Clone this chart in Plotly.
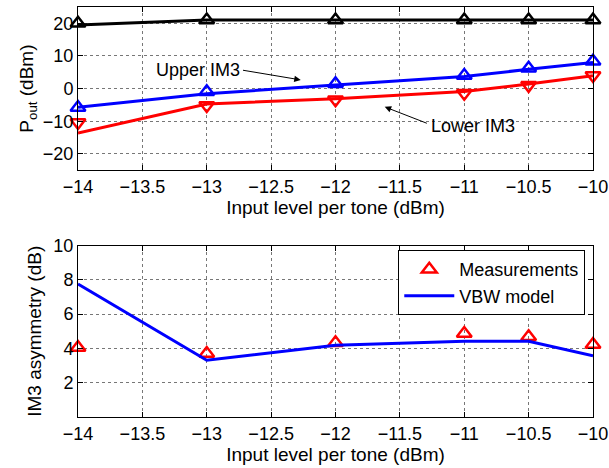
import plotly.graph_objects as go

# Data
x_in = [-14, -13, -12, -11, -10.5, -10]
# Top panel: output power (dBm)
fund_line = [19.5, 21, 21, 21, 21, 21]
fund_meas = [20.0, 21, 21, 21, 21, 21]
upper_line = [-5.7, -1.6, 1.1, 3.7, 5.9, 8.0]
upper_meas = [-5.8, -1.0, 1.5, 4.0, 6.2, 8.4]
lower_line = [-13.6, -4.7, -3.1, -0.9, 1.4, 3.9]
lower_meas = [-10.4, -5.2, -3.4, -1.4, 1.0, 4.0]
# Bottom panel: IM3 asymmetry (dB)
asym_meas = [4.05, 3.7, 4.33, 4.87, 4.68, 4.23]
asym_model = [7.76, 3.31, 4.19, 4.42, 4.42, 3.57]

x_ticks = [-14, -13.5, -13, -12.5, -12, -11.5, -11, -10.5, -10]
x_tick_text = ["\u221214", "\u221213.5", "\u221213", "\u221212.5", "\u221212",
               "\u221211.5", "\u221211", "\u221210.5", "\u221210"]
top_y_ticks = [-20, -10, 0, 10, 20]
top_y_text = ["\u221220", "\u221210", "0", "10", "20"]
bot_y_ticks = [2, 4, 6, 8, 10]

FONT = "Liberation Sans, Arial, Helvetica, sans-serif"
LW = 3

fig = go.Figure()

def add_pair(line_y, meas_y, color, symbol):
    fig.add_trace(go.Scatter(x=x_in, y=line_y, mode="lines",
                             line=dict(color=color, width=LW),
                             showlegend=False, xaxis="x", yaxis="y"))
    fig.add_trace(go.Scatter(x=x_in, y=meas_y, mode="markers",
                             marker=dict(symbol=symbol, size=13, color=color,
                                         line=dict(color=color, width=2.5)),
                             cliponaxis=False,
                             showlegend=False, xaxis="x", yaxis="y"))

add_pair(fund_line, fund_meas, "#000000", "triangle-up-open")
add_pair(upper_line, upper_meas, "#0000ff", "triangle-up-open")
add_pair(lower_line, lower_meas, "#ff0000", "triangle-down-open")

fig.add_trace(go.Scatter(x=x_in, y=asym_meas, mode="markers", name="Measurements",
                         marker=dict(symbol="triangle-up-open", size=13, color="#ff0000",
                                     line=dict(color="#ff0000", width=2.5)),
                         cliponaxis=False,
                         xaxis="x2", yaxis="y2"))
fig.add_trace(go.Scatter(x=x_in, y=asym_model, mode="lines", name="VBW model",
                         line=dict(color="#0000ff", width=LW),
                         xaxis="x2", yaxis="y2"))

axis_common = dict(
    showline=True, linecolor="black", linewidth=1, mirror="ticks",
    ticks="inside", ticklen=5, tickcolor="black",
    showgrid=True, gridcolor="#777777", griddash="dot", gridwidth=1,
    zeroline=False, tickfont=dict(size=18, color="black"),
    automargin=False, ticklabeloverflow="allow",
)

xa = dict(axis_common, range=[-14, -10], tickvals=x_ticks, ticktext=x_tick_text,
          title=dict(text="Input level per tone (dBm)", font=dict(size=19), standoff=2))

fig.update_layout(
    width=609, height=468,
    margin=dict(l=78, r=16, t=7, b=51),
    paper_bgcolor="white", plot_bgcolor="white",
    font=dict(family=FONT, color="black"),
    xaxis=dict(xa, domain=[0, 1], anchor="y"),
    yaxis=dict(axis_common, domain=[0.602, 1], range=[-25, 25], anchor="x",
               tickvals=top_y_ticks, ticktext=top_y_text,
               title=dict(text="P<sub>out</sub> (dBm)", font=dict(size=19), standoff=4)),
    xaxis2=dict(xa, domain=[0, 1], anchor="y2"),
    yaxis2=dict(axis_common, domain=[0, 0.418], range=[0, 10], anchor="x2",
                tickvals=bot_y_ticks,
                title=dict(text="IM3 asymmetry (dB)", font=dict(size=19), standoff=6)),
    legend=dict(x=0.985, y=0.407, xanchor="right", yanchor="top",
                bordercolor="black", borderwidth=1, bgcolor="white",
                font=dict(size=18), tracegroupgap=0, itemwidth=50),
    showlegend=True,
)

# Annotations: text labels and arrows
fig.add_annotation(x=-13.067, y=5.7, xref="x", yref="y", text="Upper IM3",
                   showarrow=False, font=dict(size=18))
fig.add_annotation(x=-12.27, y=2.66, ax=-12.73, ay=5.7, xref="x", yref="y",
                   axref="x", ayref="y", text="", showarrow=True,
                   arrowhead=2, arrowsize=1.3, arrowwidth=1, arrowcolor="black")
fig.add_annotation(x=-10.933, y=-11.4, xref="x", yref="y", text="Lower IM3",
                   showarrow=False, font=dict(size=18))
fig.add_annotation(x=-11.618, y=-5.6, ax=-11.279, ay=-10.8, xref="x", yref="y",
                   axref="x", ayref="y", text="", showarrow=True,
                   arrowhead=2, arrowsize=1.3, arrowwidth=1, arrowcolor="black")

fig.write_html("out.html")
